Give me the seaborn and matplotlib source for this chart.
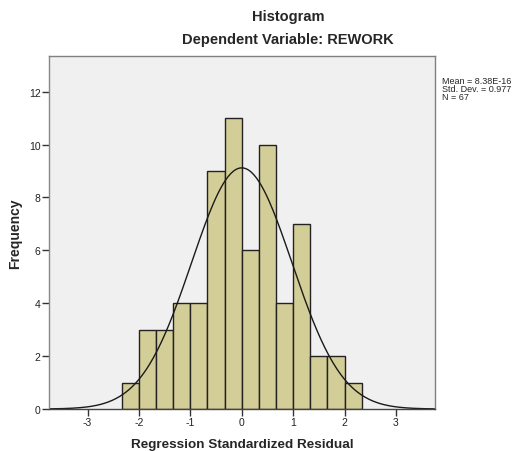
import numpy as np
import matplotlib
matplotlib.use("Agg")
import matplotlib.pyplot as plt
import seaborn as sns

# histogram bins (width 1/3) and counts
bin_edges = [-7/3, -2, -5/3, -4/3, -1, -2/3, -1/3, 0, 1/3, 2/3, 1, 4/3, 5/3, 2, 7/3]
counts = [1, 3, 3, 4, 4, 9, 11, 6, 10, 4, 7, 2, 2, 1]

mean = 8.38e-16
std_dev = 0.977
n_obs = 67

x_ticks = [-3, -2, -1, 0, 1, 2, 3]
y_ticks = [0, 2, 4, 6, 8, 10, 12]

sns.set_style("white")
plt.rcParams['font.family'] = ['Liberation Sans', 'DejaVu Sans']
plt.rcParams['axes.unicode_minus'] = False

fig = plt.figure(figsize=(5.18, 4.52), dpi=100)
ax = fig.add_axes([0.0946, 0.0929, 0.7452, 0.781])
ax.set_facecolor('#F0F0F0')

centers = [(bin_edges[i] + bin_edges[i + 1]) / 2 for i in range(len(counts))]
sns.histplot(x=centers, weights=counts, bins=bin_edges, ax=ax,
             color='#D3CE97', alpha=1, edgecolor='#222222', linewidth=1.0)

# fitted normal curve
bw = bin_edges[1] - bin_edges[0]
xs = np.linspace(-3.75, 3.75, 300)
ys = n_obs * bw / (std_dev * np.sqrt(2 * np.pi)) * np.exp(-0.5 * ((xs - mean) / std_dev) ** 2)
sns.lineplot(x=xs, y=ys, ax=ax, color='#1a1a1a', linewidth=1.0)

ax.set_xlim(-3.75, 3.76)
ax.set_ylim(0, 13.35)
ax.set_xticks(x_ticks)
ax.set_yticks(y_ticks)
ax.tick_params(axis='both', direction='out', length=5, width=1, color='#333333',
               labelsize=7.5, pad=1, bottom=True, left=True, labelcolor='#222222')
for s in ax.spines.values():
    s.set_color('#808080')
    s.set_linewidth(1.0)
ax.spines['bottom'].set_color('#444444')
ax.spines['left'].set_color('#888888')

ax.set_xlabel('Regression Standardized Residual', fontsize=9.7, fontweight='bold', labelpad=8)
ax.set_ylabel('Frequency', fontsize=10, fontweight='bold', labelpad=5)

fig.text(0.556, 1 - 17 / 452, 'Histogram', ha='center', va='center',
         fontsize=10.5, fontweight='bold')
fig.text(0.556, 1 - 40 / 452, 'Dependent Variable: REWORK', ha='center', va='center',
         fontsize=10.5, fontweight='bold')

stats = f'Mean = {mean:.2E}'.replace('E-0', 'E-') + f'\nStd. Dev. = {std_dev}\nN = {n_obs}'
fig.text(441.5 / 518, 1 - 77 / 452, stats,
         ha='left', va='top', fontsize=6.5, linespacing=0.85)

fig.savefig('out.png', dpi=100)
